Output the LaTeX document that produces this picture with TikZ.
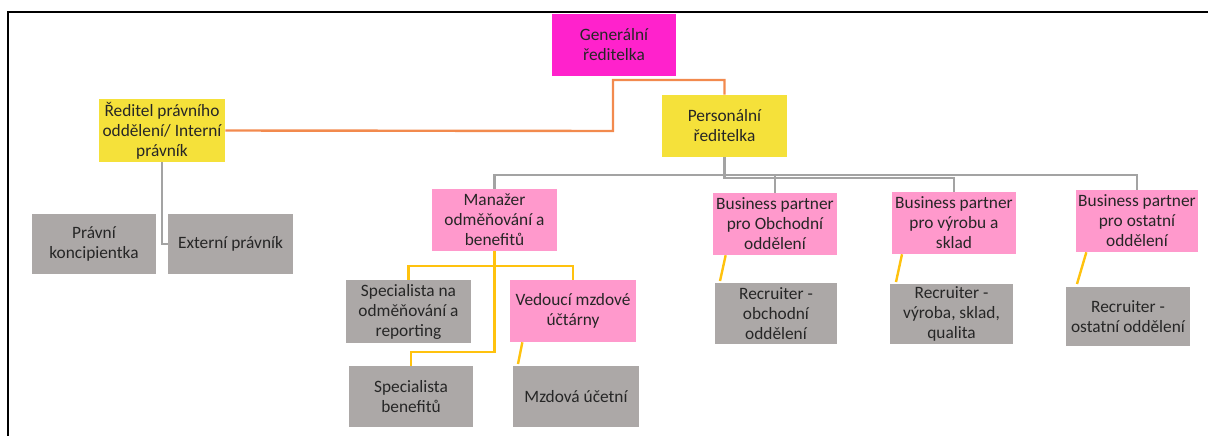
\documentclass[tikz,border=0pt]{standalone}
\usepackage{fontspec}
\setmainfont{Carlito}
\definecolor{ceofill}{HTML}{FF22CC}
\definecolor{dirfill}{HTML}{F5E13A}
\definecolor{pinkfill}{HTML}{FF99CC}
\definecolor{greyfill}{HTML}{ACA8A7}
\definecolor{orangeln}{HTML}{F28A4E}
\definecolor{goldln}{HTML}{FFC20E}
\definecolor{greyln}{HTML}{A3A3A3}
\definecolor{txt}{HTML}{262626}
\tikzset{
  orgbox/.style={rectangle, inner sep=0pt, align=center, text=txt,
    font=\fontsize{13}{15}\selectfont},
  ceobox/.style={orgbox, fill=ceofill},
  dirbox/.style={orgbox, fill=dirfill},
  pinkbox/.style={orgbox, fill=pinkfill},
  greybox/.style={orgbox, fill=greyfill},
  orangelink/.style={draw=orangeln, line width=1.8pt},
  greylink/.style={draw=greyln, line width=1.8pt},
  goldlink/.style={draw=goldln, line width=1.8pt},
}
% \placebox{name}{x1}{y1}{x2}{y2}{style}{text} -- box given by its corners in px
\newcommand{\placebox}[7]{%
  \node[#6, minimum width={(#4-#2)*0.75pt}, minimum height={(#5-#3)*0.75pt}]
    (#1) at ({(#2+#4)/2},{(#3+#5)/2}) {#7};}
\begin{document}
\begin{tikzpicture}[x=0.75pt,y=-0.75pt]
\useasboundingbox (0,0) rectangle (1208,436);
% frame edges
\draw[black, line width=1.8pt] (8,436) -- (8,12) -- (1208,12);

% boxes
\placebox{ceo}{552}{14}{676}{76}{ceobox}{Generální\\ředitelka}
\placebox{hrd}{662}{95}{787}{157}{dirbox}{Personální\\ředitelka}
\placebox{legal}{99}{99}{225}{162}{dirbox}{Ředitel právního\\oddělení/ Interní\\právník}
\placebox{pk}{32}{214}{156}{274}{greybox}{Právní\\koncipientka}
\placebox{ext}{168}{214}{293}{274}{greybox}{Externí právník}
\placebox{mgr}{432}{189}{557}{251}{pinkbox}{Manažer\\odměňování a\\benefitů}
\placebox{bpa}{713}{193}{837}{255}{pinkbox}{Business partner\\pro Obchodní\\oddělení}
\placebox{bpb}{892}{192}{1016}{254}{pinkbox}{Business partner\\pro výrobu a\\sklad}
\placebox{bpc}{1076}{190}{1198}{252}{pinkbox}{Business partner\\pro ostatní\\oddělení}
\placebox{spo}{346}{280}{471}{343}{greybox}{Specialista na\\odměňování a\\reporting}
\placebox{vmu}{510}{280}{636}{342}{pinkbox}{Vedoucí mzdové\\účtárny}
\placebox{spb}{349}{366}{473}{427}{greybox}{Specialista\\benefitů}
\placebox{mu}{513}{366}{639}{427}{greybox}{Mzdová účetní}
\placebox{ra}{715}{283}{837}{344}{greybox}{Recruiter -\\obchodní\\oddělení}
\placebox{rb}{890}{284}{1013}{344}{greybox}{Recruiter -\\výroba, sklad,\\qualita}
\placebox{rc}{1066}{287}{1190}{346}{greybox}{Recruiter -\\ostatní oddělení}

% top-level links
\draw[orangelink] (legal.east) -- (613,131) -- (613,80) -- (hrd.north |- 0,80) -- (hrd.north);

% HR director to its reports
\draw[greylink] (hrd.south) -- (hrd.south |- 0,178) -- (bpb.north |- 0,178) -- (bpb.north);
\draw[greylink] (mgr.north) -- (mgr.north |- 0,175) -- (bpc.north |- 0,175) -- (bpc.north);
\draw[greylink] (bpa.north |- 0,175) -- (bpa.north);
\draw[greylink] (legal.south) -- (legal.south |- 0,244) -- (ext.west |- 0,244);

% compensation manager branch
\draw[goldlink] (mgr.south) -- (mgr.south |- 0,352) -- (spb.north |- 0,352) -- (spb.north);
\draw[goldlink] (spo.north) -- (spo.north |- 0,266) -- (vmu.north |- 0,266) -- (vmu.north);
\coordinate (vmuend) at (518,364);
\draw[goldlink] ([xshift=-38pt]vmu.south) -- (vmuend);

% business partners to recruiters
\coordinate (raend) at (720,281);
\coordinate (rbend) at (896,282);
\coordinate (rcend) at (1077,284);
\draw[goldlink] ([xshift=-37pt]bpa.south) -- (raend);
\draw[goldlink] ([xshift=-39pt]bpb.south) -- (rbend);
\draw[goldlink] ([xshift=-38pt]bpc.south) -- (rcend);
\end{tikzpicture}
\end{document}
